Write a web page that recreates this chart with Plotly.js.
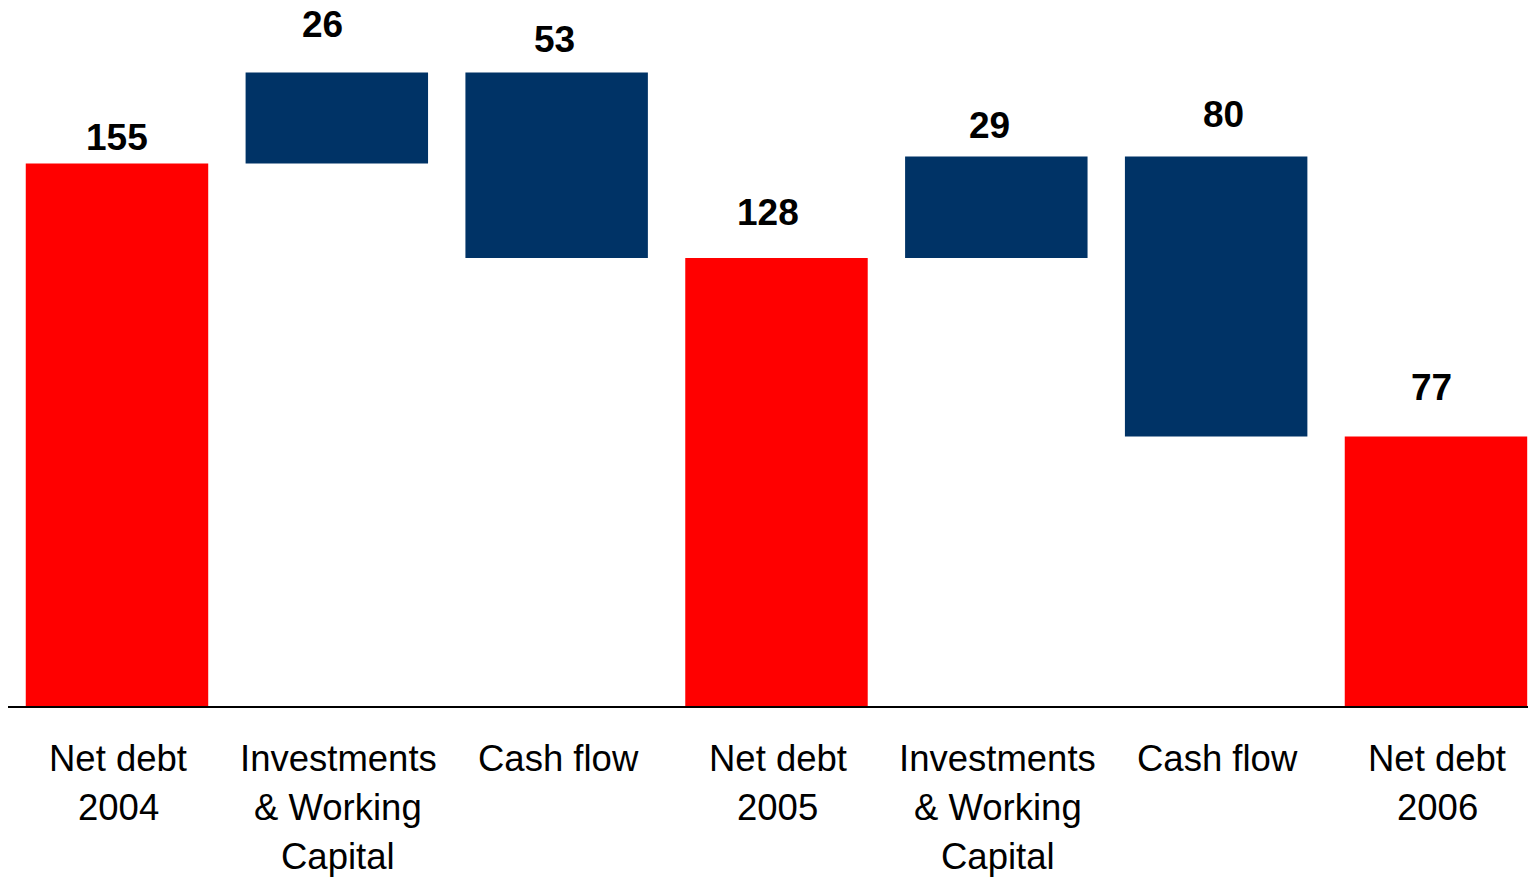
<!DOCTYPE html>
<html>
<head>
<meta charset="utf-8">
<script src="https://cdn.plot.ly/plotly-3.0.1.min.js"></script>
<style>
  html, body { margin: 0; padding: 0; background: #ffffff; }
  #chart { width: 1528px; height: 877px; }
</style>
</head>
<body>
<div id="chart"></div>
<script>
// ---- data ----
const categories = ["Net debt<br>2004", "Investments<br>& Working<br>Capital", "Cash flow",
                    "Net debt<br>2005", "Investments<br>& Working<br>Capital", "Cash flow",
                    "Net debt<br>2006"];
const measures = ["absolute", "relative", "relative", "absolute", "relative", "relative", "absolute"];
const values = [155, 26, -53, 128, 29, -80, 77];

// ---- styling / label placement (pixels) ----
const labelLift = [25.5, 47.5, 32.5, 45, 30.5, 41.5, 48.5];
const labelNudge = [0, -14.5, -2, -8, -7, 7.5, -4];
const RED = "#FF0000";
const NAVY = "#003366";
const FONT = "Liberation Sans, Arial, Helvetica, sans-serif";

// x positions as category indices so that the same label text can repeat
const xs = categories.map((_, i) => i);

// bar tops (for label anchoring) derived from the data
const tops = [];
let running = 0;
values.forEach((v, i) => {
  if (measures[i] === "absolute") { running = v; tops.push(v); }
  else { const prev = running; running += v; tops.push(Math.max(prev, running)); }
});

const annotations = [];
values.forEach((v, i) => {
  annotations.push({
    x: xs[i], y: tops[i], xref: "x", yref: "y",
    text: String(Math.abs(v)),
    showarrow: false, xanchor: "center", yanchor: "middle",
    xshift: labelNudge[i], yshift: labelLift[i],
    font: { family: FONT, size: 37, color: "#000000", weight: "bold" }
  });
});
categories.forEach((c, i) => {
  c.split("<br>").forEach((line, k) => {
    annotations.push({
      x: xs[i], y: 0, xref: "x", yref: "paper",
      text: line, showarrow: false, xanchor: "center", yanchor: "middle",
      xshift: 1.5,
      yshift: -52 - 49 * k,
      font: { family: FONT, size: 36.5, color: "#000000" }
    });
  });
});

const trace = {
  type: "waterfall",
  x: xs,
  y: values,
  measure: measures,
  connector: { visible: false },
  increasing: { marker: { color: NAVY, line: { width: 0 } } },
  decreasing: { marker: { color: NAVY, line: { width: 0 } } },
  totals: { marker: { color: RED, line: { width: 0 } } },
  textinfo: "none",
  hoverinfo: "skip"
};

const layout = {
  width: 1528, height: 877,
  margin: { l: 8, r: 0, t: 0, b: 171, pad: 0 },
  paper_bgcolor: "#ffffff", plot_bgcolor: "#ffffff",
  showlegend: false,
  waterfallgap: 0.17,
  xaxis: {
    type: "linear",
    range: [-0.4958, 6.4186],
    showgrid: false, zeroline: false,
    showticklabels: false, ticks: "",
    showline: true, linecolor: "#000000", linewidth: 2
  },
  yaxis: {
    range: [0, 201.7],
    showgrid: false, zeroline: false,
    showticklabels: false, ticks: "", showline: false
  },
  annotations: annotations
};

Plotly.newPlot("chart", [trace], layout, { staticPlot: true, displayModeBar: false });
</script>
</body>
</html>
